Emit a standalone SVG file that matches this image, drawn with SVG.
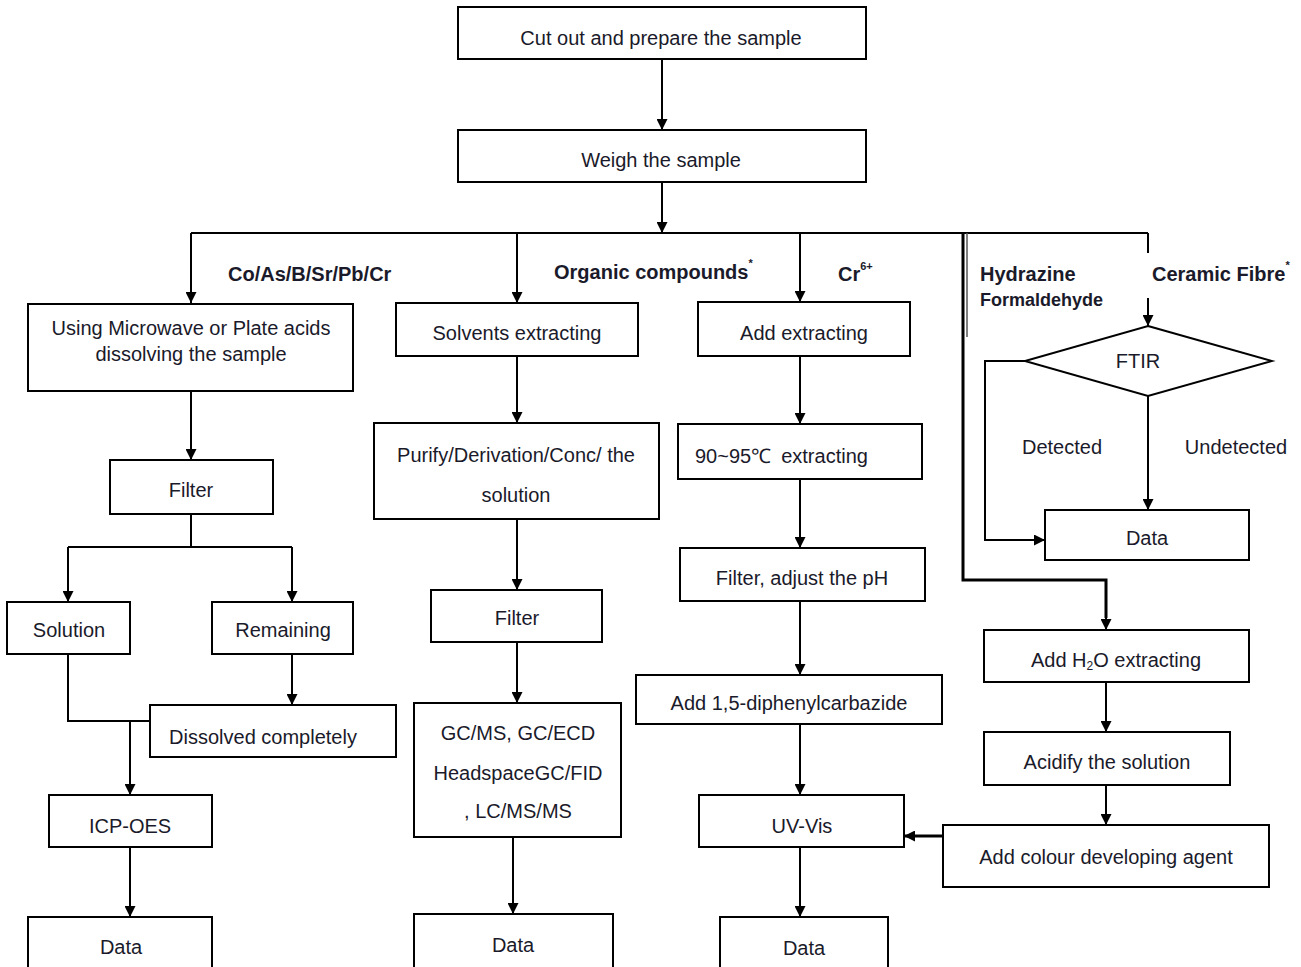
<svg xmlns="http://www.w3.org/2000/svg" width="1301" height="967" viewBox="0 0 1301 967">
<defs>
<marker id="arr" viewBox="0 0 10 10" refX="10" refY="5" markerWidth="13" markerHeight="11" markerUnits="userSpaceOnUse" orient="auto">
<path d="M0,0 L10,5 L0,10 z" fill="#000"/>
</marker>
<style>
.box{fill:#fff;stroke:#000;stroke-width:2}
.t{font-family:"Liberation Sans",Arial,sans-serif;font-size:20px;fill:#1a1a2a;text-anchor:middle}
.l{font-family:"Liberation Sans",Arial,sans-serif;font-size:20px;font-weight:bold;fill:#1a1a2a}
.c{fill:none;stroke:#000;stroke-width:2}
.ca{fill:none;stroke:#000;stroke-width:2;marker-end:url(#arr)}
</style>
</defs>
<rect width="1301" height="967" fill="#fff"/>

<g id="connectors">
<path class="ca" d="M662,60 V130"/>
<path class="ca" d="M662,182 V233"/>
<path class="c" d="M191,233 H1148"/>
<path class="ca" d="M191,233 V303"/>
<path class="ca" d="M517,233 V303"/>
<path class="ca" d="M800,233 V302"/>
<path fill="none" stroke="#000" stroke-width="3" d="M963,233 V580 H1106 V618"/>
<path class="ca" d="M1106,612 V630"/>
<path fill="none" stroke="#555" stroke-width="1.5" d="M967,233 V337"/>
<path class="c" d="M1148,233 V253"/>
<path class="ca" d="M1148,298 V326"/>
<path class="ca" d="M1025,361 H985 V540 H1045"/>
<path class="ca" d="M1148,396 V510"/>
<path class="ca" d="M191,391 V460"/>
<path class="c" d="M191,514 V547 M68,547 H292"/>
<path class="ca" d="M68,547 V602"/>
<path class="ca" d="M292,547 V602"/>
<path class="ca" d="M292,654 V705"/>
<path class="c" d="M68,654 V721 H150"/>
<path class="ca" d="M130,721 V795"/>
<path class="ca" d="M130,847 V917"/>
<path class="ca" d="M517,356 V423"/>
<path class="ca" d="M517,519 V590"/>
<path class="ca" d="M517,642 V703"/>
<path class="ca" d="M513,837 V914"/>
<path class="ca" d="M800,356 V424"/>
<path class="ca" d="M800,479 V548"/>
<path class="ca" d="M800,601 V675"/>
<path class="ca" d="M800,724 V795"/>
<path class="ca" d="M800,847 V917"/>
<path class="ca" d="M1106,682 V732"/>
<path class="ca" d="M1106,785 V825"/>
<path fill="none" stroke="#000" stroke-width="3" marker-end="url(#arr)" d="M943,836 H904"/>
</g>

<g id="labels">
<text class="l" x="228" y="281">Co/As/B/Sr/Pb/Cr</text>
<text class="l" x="554" y="279">Organic compounds<tspan font-size="11" dy="-12">*</tspan></text>
<text class="l" x="838" y="281">Cr<tspan font-size="11" dy="-11">6+</tspan></text>
<text class="l" x="980" y="281">Hydrazine</text>
<text class="l" x="980" y="306" style="font-size:18px">Formaldehyde</text>
<text class="l" x="1152" y="281">Ceramic Fibre<tspan font-size="11" dy="-12">*</tspan></text>
<text class="t" x="1062" y="454">Detected</text>
<text class="t" x="1236" y="454">Undetected</text>
</g>

<g id="n-cut"><rect class="box" x="458" y="7" width="408" height="52"/><text class="t" x="661" y="45">Cut out and prepare the sample</text></g>
<g id="n-weigh"><rect class="box" x="458" y="130" width="408" height="52"/><text class="t" x="661" y="167">Weigh the sample</text></g>

<g id="n-dissolve"><rect class="box" x="28" y="304" width="325" height="87"/><text class="t" x="191" y="335">Using Microwave or Plate acids</text><text class="t" x="191" y="361">dissolving the sample</text></g>
<g id="n-filter1"><rect class="box" x="110" y="460" width="163" height="54"/><text class="t" x="191" y="497">Filter</text></g>
<g id="n-solution"><rect class="box" x="7" y="602" width="123" height="52"/><text class="t" x="69" y="637">Solution</text></g>
<g id="n-remaining"><rect class="box" x="212" y="602" width="141" height="52"/><text class="t" x="283" y="637">Remaining</text></g>
<g id="n-dissolved"><rect class="box" x="150" y="705" width="246" height="52"/><text class="t" x="263" y="744">Dissolved completely</text></g>
<g id="n-icp"><rect class="box" x="49" y="795" width="163" height="52"/><text class="t" x="130" y="833">ICP-OES</text></g>
<g id="n-data1"><rect class="box" x="28" y="917" width="184" height="60"/><text class="t" x="121" y="954">Data</text></g>

<g id="n-solvents"><rect class="box" x="396" y="303" width="242" height="53"/><text class="t" x="517" y="340">Solvents extracting</text></g>
<g id="n-purify"><rect class="box" x="374" y="423" width="285" height="96"/><text class="t" x="516" y="462">Purify/Derivation/Conc/ the</text><text class="t" x="516" y="502">solution</text></g>
<g id="n-filter2"><rect class="box" x="431" y="590" width="171" height="52"/><text class="t" x="517" y="625">Filter</text></g>
<g id="n-gc"><rect class="box" x="414" y="703" width="207" height="134"/><text class="t" x="518" y="740">GC/MS, GC/ECD</text><text class="t" x="518" y="780">HeadspaceGC/FID</text><text class="t" x="518" y="818">, LC/MS/MS</text></g>
<g id="n-data2"><rect class="box" x="414" y="914" width="199" height="60"/><text class="t" x="513" y="952">Data</text></g>

<g id="n-addext"><rect class="box" x="698" y="302" width="212" height="54"/><text class="t" x="804" y="340">Add extracting</text></g>
<g id="n-9095"><rect class="box" x="678" y="424" width="244" height="55"/><text class="t" x="695" y="463" style="text-anchor:start">90~95℃<tspan dx="10">extracting</tspan></text></g>
<g id="n-filterph"><rect class="box" x="680" y="548" width="245" height="53"/><text class="t" x="802" y="585">Filter, adjust the pH</text></g>
<g id="n-dpc"><rect class="box" x="636" y="675" width="306" height="49"/><text class="t" x="789" y="710">Add 1,5-diphenylcarbazide</text></g>
<g id="n-uvvis"><rect class="box" x="699" y="795" width="205" height="52"/><text class="t" x="802" y="833">UV-Vis</text></g>
<g id="n-data3"><rect class="box" x="720" y="917" width="168" height="60"/><text class="t" x="804" y="955">Data</text></g>

<g id="n-ftir"><polygon points="1148,326 1272,361 1148,396 1025,361" fill="#fff" stroke="#000" stroke-width="2"/><text class="t" x="1138" y="368">FTIR</text></g>
<g id="n-data4"><rect class="box" x="1045" y="510" width="204" height="50"/><text class="t" x="1147" y="545">Data</text></g>
<g id="n-h2o"><rect class="box" x="984" y="630" width="265" height="52"/><text class="t" x="1116" y="667">Add H<tspan font-size="12" dy="3">2</tspan><tspan dy="-3">O extracting</tspan></text></g>
<g id="n-acidify"><rect class="box" x="984" y="732" width="246" height="53"/><text class="t" x="1107" y="769">Acidify the solution</text></g>
<g id="n-colour"><rect class="box" x="943" y="825" width="326" height="62"/><text class="t" x="1106" y="864">Add colour developing agent</text></g>
</svg>
